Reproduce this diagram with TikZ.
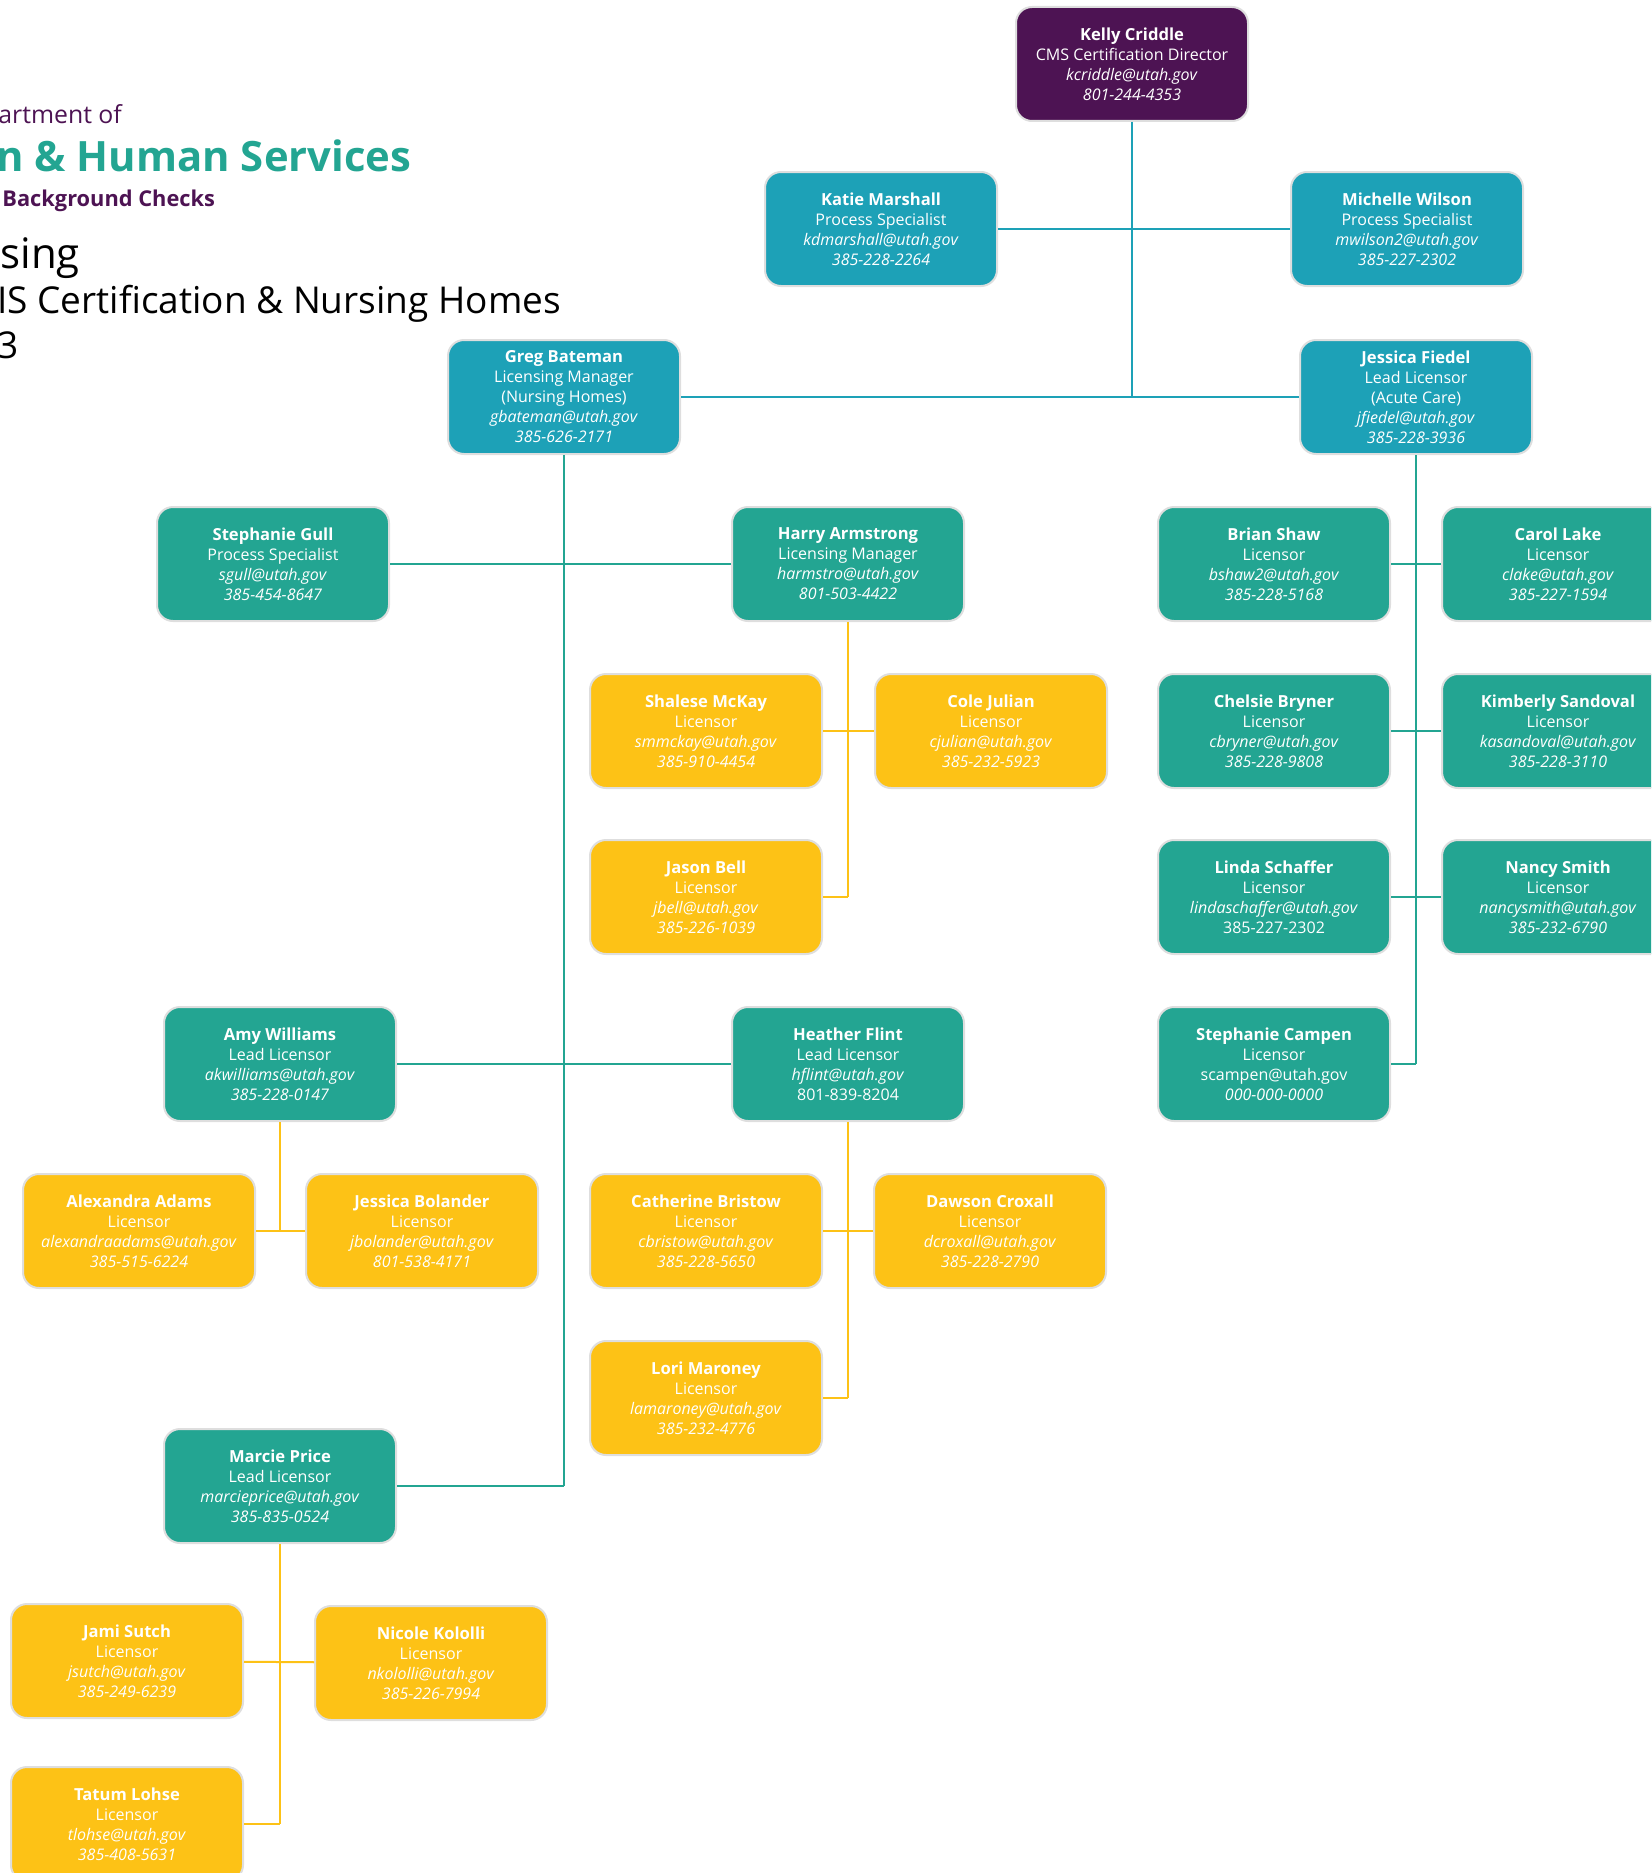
\documentclass[tikz,border=0pt]{standalone}
\usepackage{fontspec}
\setmainfont{Open Sans}
\usepackage{tikz}

\definecolor{dirpurple}{HTML}{4D1353}
\definecolor{mgrblue}{HTML}{1DA1B7}
\definecolor{leadgreen}{HTML}{23A592}
\definecolor{licyellow}{HTML}{FDC216}
\definecolor{cardedge}{HTML}{DEDEDE}

\newcommand{\cardname}[1]{{\fontsize{8.3}{10}\selectfont\bfseries #1}}

\begin{document}
\begin{tikzpicture}[x=0.5pt,y=-0.5pt,
  card/.style={shape=rectangle,rounded corners=8pt,draw=cardedge,line width=1pt,
    minimum width=116pt,minimum height=57pt,inner sep=0pt,align=center,text=white,
    font=\fontsize{8}{10}\selectfont},
  dircard/.style={card,fill=dirpurple},
  mgrcard/.style={card,fill=mgrblue},
  leadcard/.style={card,fill=leadgreen},
  liccard/.style={card,fill=licyellow},
  blueln/.style={draw=mgrblue,line width=1pt},
  greenln/.style={draw=leadgreen,line width=1pt},
  yellowln/.style={draw=licyellow,line width=1pt},
  head/.style={anchor=base west,inner sep=0pt}]
\clip (0,0) rectangle (1651,1873);

% heading
\node[head,text=dirpurple,font=\fontsize{12.4}{15}\selectfont] (dept) at (-2,124) {artment of};
\node[head,text=leadgreen,font=\fontsize{20.9}{24}\selectfont\bfseries] (agency) at (-4,171) {n \& Human Services};
\node[head,text=dirpurple,font=\fontsize{10.9}{13}\selectfont\bfseries] (office) at (2,206) {Background Checks};
\node[head,font=\fontsize{21}{24}\selectfont] (title) at (0,268) {sing};
\node[head,font=\fontsize{18.5}{22}\selectfont] (subtitle) at (-3,313) {IS Certification \& Nursing Homes};
\node[head,font=\fontsize{18.5}{22}\selectfont] (year) at (-3,358) {3};

% cards
\node[dircard] (kelly) at (1132,64) {\cardname{Kelly Criddle}\\CMS Certification Director\\\textit{kcriddle@utah.gov}\\\textit{801-244-4353}};
\node[mgrcard] (katie) at (881,229) {\cardname{Katie Marshall}\\Process Specialist\\\textit{kdmarshall@utah.gov}\\\textit{385-228-2264}};
\node[mgrcard] (michelle) at (1407,229) {\cardname{Michelle Wilson}\\Process Specialist\\\textit{mwilson2@utah.gov}\\\textit{385-227-2302}};
\node[mgrcard] (greg) at (564,397) {\cardname{Greg Bateman}\\Licensing Manager\\(Nursing Homes)\\\textit{gbateman@utah.gov}\\\textit{385-626-2171}};
\node[mgrcard] (fiedel) at (1416,397) {\cardname{Jessica Fiedel}\\Lead Licensor\\(Acute Care)\\\textit{jfiedel@utah.gov}\\\textit{385-228-3936}};
\node[leadcard] (gull) at (273,564) {\cardname{Stephanie Gull}\\Process Specialist\\\textit{sgull@utah.gov}\\\textit{385-454-8647}};
\node[leadcard] (harry) at (848,564) {\cardname{Harry Armstrong}\\Licensing Manager\\\textit{harmstro@utah.gov}\\\textit{801-503-4422}};
\node[leadcard] (bshaw) at (1274,564) {\cardname{Brian Shaw}\\Licensor\\\textit{bshaw2@utah.gov}\\\textit{385-228-5168}};
\node[leadcard] (clake) at (1558,564) {\cardname{Carol Lake}\\Licensor\\\textit{clake@utah.gov}\\\textit{385-227-1594}};
\node[liccard] (shalese) at (706,731) {\cardname{Shalese McKay}\\Licensor\\\textit{smmckay@utah.gov}\\\textit{385-910-4454}};
\node[liccard] (cole) at (991,731) {\cardname{Cole Julian}\\Licensor\\\textit{cjulian@utah.gov}\\\textit{385-232-5923}};
\node[leadcard] (bryner) at (1274,731) {\cardname{Chelsie Bryner}\\Licensor\\\textit{cbryner@utah.gov}\\\textit{385-228-9808}};
\node[leadcard] (sandoval) at (1558,731) {\cardname{Kimberly Sandoval}\\Licensor\\\textit{kasandoval@utah.gov}\\\textit{385-228-3110}};
\node[liccard] (jbell) at (706,897) {\cardname{Jason Bell}\\Licensor\\\textit{jbell@utah.gov}\\\textit{385-226-1039}};
\node[leadcard] (schaffer) at (1274,897) {\cardname{Linda Schaffer}\\Licensor\\\textit{lindaschaffer@utah.gov}\\385-227-2302};
\node[leadcard] (nsmith) at (1558,897) {\cardname{Nancy Smith}\\Licensor\\\textit{nancysmith@utah.gov}\\\textit{385-232-6790}};
\node[leadcard] (amy) at (280,1064) {\cardname{Amy Williams}\\Lead Licensor\\\textit{akwilliams@utah.gov}\\\textit{385-228-0147}};
\node[leadcard] (heather) at (848,1064) {\cardname{Heather Flint}\\Lead Licensor\\\textit{hflint@utah.gov}\\801-839-8204};
\node[leadcard] (campen) at (1274,1064) {\cardname{Stephanie Campen}\\Licensor\\scampen@utah.gov\\\textit{000-000-0000}};
\node[liccard] (adams) at (139,1231) {\cardname{Alexandra Adams}\\Licensor\\\textit{alexandraadams@utah.gov}\\\textit{385-515-6224}};
\node[liccard] (bolander) at (422,1231) {\cardname{Jessica Bolander}\\Licensor\\\textit{jbolander@utah.gov}\\\textit{801-538-4171}};
\node[liccard] (bristow) at (706,1231) {\cardname{Catherine Bristow}\\Licensor\\\textit{cbristow@utah.gov}\\\textit{385-228-5650}};
\node[liccard] (croxall) at (990,1231) {\cardname{Dawson Croxall}\\Licensor\\\textit{dcroxall@utah.gov}\\\textit{385-228-2790}};
\node[liccard] (maroney) at (706,1398) {\cardname{Lori Maroney}\\Licensor\\\textit{lamaroney@utah.gov}\\\textit{385-232-4776}};
\node[leadcard] (marcie) at (280,1486) {\cardname{Marcie Price}\\Lead Licensor\\\textit{marcieprice@utah.gov}\\\textit{385-835-0524}};
\node[liccard] (sutch) at (127,1661) {\cardname{Jami Sutch}\\Licensor\\\textit{jsutch@utah.gov}\\\textit{385-249-6239}};
\node[liccard] (kololli) at (431,1663) {\cardname{Nicole Kololli}\\Licensor\\\textit{nkololli@utah.gov}\\\textit{385-226-7994}};
\node[liccard] (lohse) at (127,1824) {\cardname{Tatum Lohse}\\Licensor\\\textit{tlohse@utah.gov}\\\textit{385-408-5631}};

% director
\path (kelly) edge[blueln] (kelly |- greg);
\path (katie) edge[blueln] (michelle);
\path (greg) edge[blueln] (fiedel);
% nursing homes
\path (greg) edge[greenln] (greg |- marcie);
\path (gull) edge[greenln] (harry);
\path (amy) edge[greenln] (heather);
\path (marcie) edge[greenln] (greg |- marcie);
% acute care
\path (fiedel) edge[greenln] (fiedel |- campen);
\path (bshaw) edge[greenln] (clake);
\path (bryner) edge[greenln] (sandoval);
\path (schaffer) edge[greenln] (nsmith);
\path (campen) edge[greenln] (fiedel |- campen);
% licensors
\path (harry) edge[yellowln] (harry |- jbell);
\path (shalese) edge[yellowln] (cole);
\path (jbell) edge[yellowln] (harry |- jbell);
\path (heather) edge[yellowln] (heather |- maroney);
\path (bristow) edge[yellowln] (croxall);
\path (maroney) edge[yellowln] (heather |- maroney);
\path (amy) edge[yellowln] (amy |- adams);
\path (adams) edge[yellowln] (bolander);
\path (marcie) edge[yellowln] (marcie |- lohse);
\path (sutch) edge[yellowln] (kololli);
\path (lohse) edge[yellowln] (marcie |- lohse);
\end{tikzpicture}
\end{document}
